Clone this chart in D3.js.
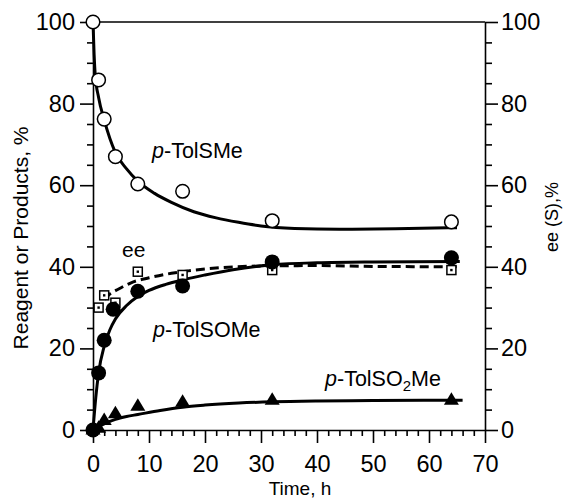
<!DOCTYPE html>
<html><head><meta charset="utf-8">
<script src="https://cdn.jsdelivr.net/npm/d3@7"></script>
<style>
html,body{margin:0;padding:0;background:#fff;}
svg{display:block;font-family:"Liberation Sans",Arial,Helvetica,sans-serif;}
</style></head>
<body>
<svg id="chart" width="564" height="498"></svg>
<script>
// ---- data ----
const xTicks = [0,10,20,30,40,50,60,70];
const yTicks = [0,20,40,60,80,100];

// measured points: [time h, %]
const tolSMe   = [[0,100],[1,85.8],[2,76.2],[4,67],[8,60.3],[16,58.5],[32,51.3],[64,51]];
const tolSOMe  = [[0,0],[1,14],[2,22],[3.6,29.6],[8,34],[16,35.3],[32,41.2],[64,42.2]];
const tolSO2Me = [[0,0],[1,0.4],[2,2.3],[4,4],[8,5.8],[16,6.8],[32,7.3],[64,7.3]];
const eeVals   = [[1,30],[2,33],[4,31.2],[8,38.8],[16,38],[32,39.2],[64,39.2]];

// fitted curves as drawn in the picture
const fitSMe   = [[0,100],[0.2,92],[0.4,87],[1,81.5],[2,76],[4,68],[6,64],[8,61],[11,58],[14,55.8],[18,53.5],[22,52],[26,50.9],[30,50],[36,49.4],[44,49.2],[54,49.3],[65,49.6]];
const fitSOMe  = [[0,0],[0.5,8],[1,14],[2,20.5],[3,24.5],[4,27.2],[6,30.5],[8,32.7],[10,34.2],[13,35.7],[16,36.8],[20,38],[25,39.3],[32,40.5],[40,41],[50,41.2],[65.5,41.3]];
const fitSO2Me = [[0,0],[1,0.8],[2,1.5],[4,2.6],[6,3.3],[8,3.8],[12,4.8],[16,5.6],[20,6.1],[26,6.6],[32,6.9],[40,7.1],[50,7.2],[66,7.3]];
const fitEe    = [[2,32],[3,33.3],[4.5,34.5],[7,36.2],[10,37.3],[14,38.4],[17,39],[23,39.8],[30,40.2],[40,40.3],[50,40.1],[65.5,40]];

const svg = d3.select("#chart");
const x = d3.scaleLinear().domain([0,70]).range([93,485]);
const y = d3.scaleLinear().domain([0,100]).range([430,22]);
const FS = 23.5;

function styleAxis(g){
  g.selectAll("path,line").attr("stroke","#000").attr("stroke-width",1.6);
  g.selectAll("text").attr("font-size",FS).attr("fill","#000")
   .attr("font-family","'Liberation Sans',Arial,Helvetica,sans-serif");
}
const minorY = d3.range(0,101,5).filter(v=>v%20!==0);
const minorX = d3.range(0,71,2).filter(v=>v%10!==0);

// left axis
svg.append("g").attr("transform","translate(93,0)")
  .call(d3.axisLeft(y).tickValues(minorY).tickSize(6).tickSizeOuter(0).tickFormat(""))
  .call(styleAxis).call(g=>g.select(".domain").remove());
svg.append("g").attr("transform","translate(93,0)")
  .call(d3.axisLeft(y).tickValues(yTicks).tickSize(13).tickPadding(5).tickSizeOuter(0))
  .call(styleAxis);
// right axis
svg.append("g").attr("transform","translate(485,0)")
  .call(d3.axisRight(y).tickValues(minorY).tickSize(7).tickSizeOuter(0).tickFormat(""))
  .call(styleAxis).call(g=>g.select(".domain").remove());
svg.append("g").attr("transform","translate(485,0)")
  .call(d3.axisRight(y).tickValues(yTicks).tickSize(13).tickPadding(3).tickSizeOuter(0))
  .call(styleAxis);
// bottom axis
svg.append("g").attr("transform","translate(0,430)")
  .call(d3.axisBottom(x).tickValues(minorX).tickSize(6).tickSizeOuter(0).tickFormat(""))
  .call(styleAxis).call(g=>g.select(".domain").remove());
svg.append("g").attr("transform","translate(0,430)")
  .call(d3.axisBottom(x).tickValues(xTicks).tickSize(13).tickPadding(12).tickSizeOuter(0))
  .call(styleAxis);
// top frame line
svg.append("line").attr("x1",x(0)).attr("x2",x(70)).attr("y1",y(100)).attr("y2",y(100))
  .attr("stroke","#000").attr("stroke-width",1.6);

// axis titles
svg.append("text").attr("transform","translate(28,238) rotate(-90)")
  .attr("text-anchor","middle").attr("font-size",21).text("Reagent or Products, %");
svg.append("text").attr("transform","translate(558,217) rotate(-90)")
  .attr("text-anchor","middle").attr("font-size",18).text("ee (S),%");
svg.append("text").attr("x",300).attr("y",495)
  .attr("text-anchor","middle").attr("font-size",19).text("Time, h");

// curves
const line = d3.line().x(d=>x(d[0])).y(d=>y(d[1])).curve(d3.curveMonotoneX);
[fitSMe, fitSOMe, fitSO2Me].forEach(c=>{
  svg.append("path").attr("d",line(c)).attr("fill","none")
    .attr("stroke","#000").attr("stroke-width",3);
});
svg.append("path").attr("d",line(fitEe)).attr("fill","none")
  .attr("stroke","#000").attr("stroke-width",3).attr("stroke-dasharray","9,5");

// markers
svg.append("g").selectAll("rect").data(eeVals).join("rect")
  .attr("x",d=>x(d[0])-4.5).attr("y",d=>y(d[1])-4.5).attr("width",9).attr("height",9)
  .attr("fill","#fff").attr("stroke","#000").attr("stroke-width",1.5);
svg.append("g").selectAll("rect").data(eeVals).join("rect")
  .attr("x",d=>x(d[0])-1.2).attr("y",d=>y(d[1])-1.2).attr("width",2.4).attr("height",2.4)
  .attr("fill","#000");
svg.append("g").selectAll("circle").data(tolSMe).join("circle")
  .attr("cx",d=>x(d[0])).attr("cy",d=>y(d[1])).attr("r",6.8)
  .attr("fill","#fff").attr("stroke","#000").attr("stroke-width",1.5);
svg.append("g").selectAll("circle").data(tolSOMe).join("circle")
  .attr("cx",d=>x(d[0])).attr("cy",d=>y(d[1])).attr("r",7.5).attr("fill","#000");
const tri = "M0,-8L7.5,4.5L-7.5,4.5Z";
svg.append("g").selectAll("path").data(tolSO2Me).join("path")
  .attr("transform",d=>`translate(${x(d[0])},${y(d[1])})`).attr("d",tri).attr("fill","#000");

// labels
function label(xp,yp,fs){
  return svg.append("text").attr("x",xp).attr("y",yp).attr("font-size",fs).attr("fill","#000");
}
let t1 = label(152,158,21.5);
t1.append("tspan").attr("font-style","italic").text("p");
t1.append("tspan").text("-TolSMe");
let t2 = label(153,337,21.5);
t2.append("tspan").attr("font-style","italic").text("p");
t2.append("tspan").text("-TolSOMe");
let t3 = label(325,386,21.5);
t3.append("tspan").attr("font-style","italic").text("p");
t3.append("tspan").text("-TolSO");
t3.append("tspan").attr("font-size",15).attr("dy",5).text("2");
t3.append("tspan").attr("dy",-5).text("Me");
label(122,257,21).text("ee");
</script>
</body></html>
